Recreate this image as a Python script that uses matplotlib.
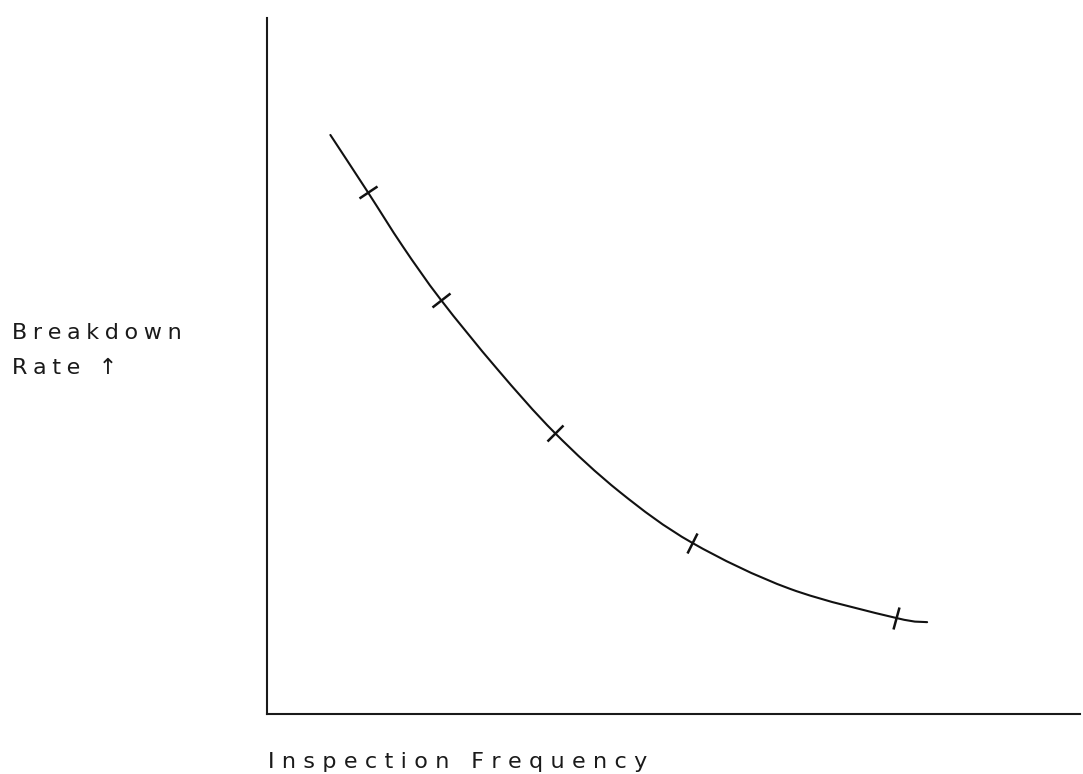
import numpy as np
import matplotlib
matplotlib.use("Agg")
import matplotlib.pyplot as plt
from matplotlib.markers import MarkerStyle
from matplotlib.transforms import Affine2D
from matplotlib.path import Path
from matplotlib.patches import PathPatch

# curve (arbitrary units, axes run 0..10)
freq = [0.78, 1.24, 1.67, 2.14, 2.83, 3.54, 4.34, 5.23, 6.43, 7.74, 8.12]
rate = [8.32, 7.50, 6.72, 5.95, 4.96, 4.04, 3.19, 2.46, 1.80, 1.38, 1.32]
# points on the curve carrying a cross-tick
tick_idx = [1, 3, 5, 7, 9]

x_label = "Inspection Frequency"
y_label = ["Breakdown", "Rate \u2191"]


def spaced(s, sep):
    # plotter style lettering: extra space between every character
    return sep.join(s)


def smooth_path(xs, ys):
    # Catmull-Rom through the read points, drawn as cubic beziers
    p = np.column_stack([xs, ys])
    verts = [p[0]]
    codes = [Path.MOVETO]
    n = len(p)
    for i in range(n - 1):
        p0 = p[max(i - 1, 0)]
        p1 = p[i]
        p2 = p[i + 1]
        p3 = p[min(i + 2, n - 1)]
        verts += [p1 + (p2 - p0) / 6, p2 - (p3 - p1) / 6, p2]
        codes += [Path.CURVE4] * 3
    return Path(verts, codes)


fig = plt.figure(figsize=(10.83, 7.74), dpi=100)
ax = fig.add_axes([0.2465, 0.0775, 0.7507, 0.8992])
ax.set_xlim(0, 10)
ax.set_ylim(0, 10)
for side in ["top", "right"]:
    ax.spines[side].set_visible(False)
for side in ["left", "bottom"]:
    ax.spines[side].set_linewidth(1.5)
    ax.spines[side].set_color("#1a1a1a")
ax.set_xticks([])
ax.set_yticks([])

ax.add_patch(PathPatch(smooth_path(freq, rate), facecolor="none",
                       edgecolor="#111111", lw=1.5, capstyle="round"))

# short ticks across the curve, perpendicular in screen space
pts = ax.transData.transform(np.column_stack([freq, rate]))
for i in tick_idx:
    d = pts[i + 1] - pts[i - 1]
    ang = np.degrees(np.arctan2(d[1], d[0]))
    m = MarkerStyle("|", transform=Affine2D().rotate_deg(ang))
    ax.plot(freq[i], rate[i], marker=m, markersize=16,
            markeredgewidth=1.8, color="#111111", linestyle="none")

font = dict(family=["DejaVu Sans"], fontsize=16, color="#1a1a1a")
fig.text(12 / 1083, 1 - 323 / 774, spaced(y_label[0], "\u2005"),
         va="top", ha="left", **font)
fig.text(12 / 1083, 1 - 358 / 774, spaced(y_label[1], "\u2005"),
         va="top", ha="left", **font)
fig.text(268 / 1083, 1 - 752 / 774, spaced(x_label, "\u2004"),
         va="top", ha="left", **font)

fig.savefig("out.png", dpi=100)
